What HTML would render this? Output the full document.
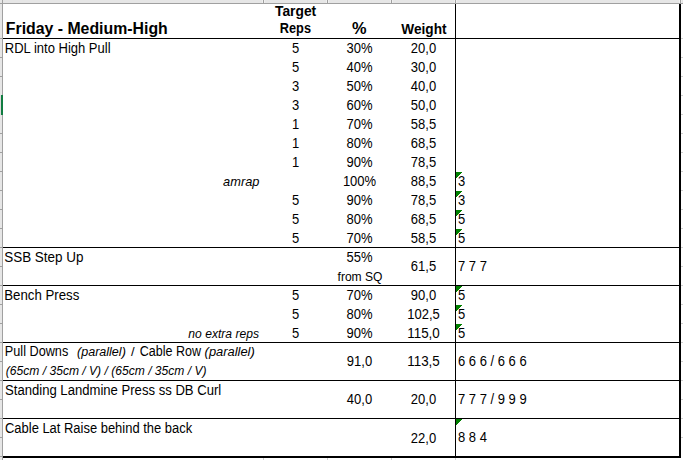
<!DOCTYPE html>
<html><head><meta charset="utf-8"><style>
html,body{margin:0;padding:0;background:#fff;}
body{width:683px;height:460px;overflow:hidden;font-family:"Liberation Sans",sans-serif;}
svg{display:block}
text{shape-rendering:auto}
</style></head><body>
<svg width="683" height="460" viewBox="0 0 683 460" font-family="Liberation Sans, sans-serif" fill="#000" shape-rendering="crispEdges">
<rect x="0" y="0" width="683" height="3" fill="#e6e6e6"/>
<rect x="0" y="3" width="683" height="1" fill="#a0a0a0"/>
<rect x="262" y="0" width="1" height="3" fill="#f0f0f0"/>
<rect x="264" y="0" width="1" height="3" fill="#f0f0f0"/>
<rect x="263" y="0" width="1" height="3" fill="#a0a0a0"/>
<rect x="326" y="0" width="1" height="3" fill="#f0f0f0"/>
<rect x="328" y="0" width="1" height="3" fill="#f0f0f0"/>
<rect x="327" y="0" width="1" height="3" fill="#a0a0a0"/>
<rect x="390" y="0" width="1" height="3" fill="#f0f0f0"/>
<rect x="392" y="0" width="1" height="3" fill="#f0f0f0"/>
<rect x="391" y="0" width="1" height="3" fill="#a0a0a0"/>
<rect x="454" y="0" width="1" height="3" fill="#f0f0f0"/>
<rect x="456" y="0" width="1" height="3" fill="#f0f0f0"/>
<rect x="455" y="0" width="1" height="3" fill="#a0a0a0"/>
<rect x="679" y="0" width="1" height="3" fill="#f0f0f0"/>
<rect x="681" y="0" width="1" height="3" fill="#f0f0f0"/>
<rect x="680" y="0" width="1" height="3" fill="#a0a0a0"/>
<rect x="0" y="4" width="2" height="456" fill="#e6e6e6"/>
<rect x="2" y="0" width="1" height="460" fill="#a0a0a0"/>
<rect x="0" y="38" width="2" height="1" fill="#a0a0a0"/>
<rect x="0" y="57" width="2" height="1" fill="#a0a0a0"/>
<rect x="0" y="76" width="2" height="1" fill="#a0a0a0"/>
<rect x="0" y="95" width="2" height="1" fill="#a0a0a0"/>
<rect x="0" y="114" width="2" height="1" fill="#a0a0a0"/>
<rect x="0" y="133" width="2" height="1" fill="#a0a0a0"/>
<rect x="0" y="152" width="2" height="1" fill="#a0a0a0"/>
<rect x="0" y="171" width="2" height="1" fill="#a0a0a0"/>
<rect x="0" y="190" width="2" height="1" fill="#a0a0a0"/>
<rect x="0" y="209" width="2" height="1" fill="#a0a0a0"/>
<rect x="0" y="228" width="2" height="1" fill="#a0a0a0"/>
<rect x="0" y="247" width="2" height="1" fill="#a0a0a0"/>
<rect x="0" y="266" width="2" height="1" fill="#a0a0a0"/>
<rect x="0" y="285" width="2" height="1" fill="#a0a0a0"/>
<rect x="0" y="304" width="2" height="1" fill="#a0a0a0"/>
<rect x="0" y="323" width="2" height="1" fill="#a0a0a0"/>
<rect x="0" y="342" width="2" height="1" fill="#a0a0a0"/>
<rect x="0" y="361" width="2" height="1" fill="#a0a0a0"/>
<rect x="0" y="380" width="2" height="1" fill="#a0a0a0"/>
<rect x="0" y="399" width="2" height="1" fill="#a0a0a0"/>
<rect x="0" y="418" width="2" height="1" fill="#a0a0a0"/>
<rect x="0" y="437" width="2" height="1" fill="#a0a0a0"/>
<rect x="0" y="456" width="2" height="1" fill="#a0a0a0"/>
<rect x="0" y="95" width="2" height="20" fill="#e0dadd"/>
<rect x="1" y="95" width="2" height="20" fill="#107c41"/>
<rect x="681" y="38" width="2" height="1" fill="#d0d0d0"/>
<rect x="681" y="57" width="2" height="1" fill="#d0d0d0"/>
<rect x="681" y="76" width="2" height="1" fill="#d0d0d0"/>
<rect x="681" y="95" width="2" height="1" fill="#d0d0d0"/>
<rect x="681" y="114" width="2" height="1" fill="#d0d0d0"/>
<rect x="681" y="133" width="2" height="1" fill="#d0d0d0"/>
<rect x="681" y="152" width="2" height="1" fill="#d0d0d0"/>
<rect x="681" y="171" width="2" height="1" fill="#d0d0d0"/>
<rect x="681" y="190" width="2" height="1" fill="#d0d0d0"/>
<rect x="681" y="209" width="2" height="1" fill="#d0d0d0"/>
<rect x="681" y="228" width="2" height="1" fill="#d0d0d0"/>
<rect x="681" y="247" width="2" height="1" fill="#d0d0d0"/>
<rect x="681" y="266" width="2" height="1" fill="#d0d0d0"/>
<rect x="681" y="285" width="2" height="1" fill="#d0d0d0"/>
<rect x="681" y="304" width="2" height="1" fill="#d0d0d0"/>
<rect x="681" y="323" width="2" height="1" fill="#d0d0d0"/>
<rect x="681" y="342" width="2" height="1" fill="#d0d0d0"/>
<rect x="681" y="361" width="2" height="1" fill="#d0d0d0"/>
<rect x="681" y="380" width="2" height="1" fill="#d0d0d0"/>
<rect x="681" y="399" width="2" height="1" fill="#d0d0d0"/>
<rect x="681" y="418" width="2" height="1" fill="#d0d0d0"/>
<rect x="681" y="437" width="2" height="1" fill="#d0d0d0"/>
<rect x="263" y="458" width="1" height="2" fill="#d0d0d0"/>
<rect x="327" y="458" width="1" height="2" fill="#d0d0d0"/>
<rect x="391" y="458" width="1" height="2" fill="#d0d0d0"/>
<rect x="455" y="458" width="1" height="2" fill="#d0d0d0"/>
<rect x="3" y="38" width="677" height="1" fill="#000"/>
<rect x="3" y="247" width="677" height="1" fill="#000"/>
<rect x="3" y="285" width="677" height="1" fill="#000"/>
<rect x="3" y="342" width="677" height="1" fill="#000"/>
<rect x="3" y="380" width="677" height="1" fill="#000"/>
<rect x="3" y="418" width="677" height="1" fill="#000"/>
<rect x="3" y="456" width="678" height="2" fill="#000"/>
<rect x="455" y="4" width="1" height="454" fill="#000"/>
<rect x="679" y="4" width="2" height="454" fill="#000"/>
<text x="5.80" y="34" font-size="16" font-weight="bold" textLength="161.96" lengthAdjust="spacingAndGlyphs">Friday - Medium-High</text>
<text x="295.60" y="16" font-size="14" font-weight="bold" text-anchor="middle" textLength="41.16" lengthAdjust="spacingAndGlyphs">Target</text>
<text x="295.40" y="33" font-size="14" font-weight="bold" text-anchor="middle" textLength="31.14" lengthAdjust="spacingAndGlyphs">Reps</text>
<text x="359.40" y="34" font-size="16" font-weight="bold" text-anchor="middle" textLength="14.52" lengthAdjust="spacingAndGlyphs">%</text>
<text x="423.90" y="34" font-size="14" font-weight="bold" text-anchor="middle" textLength="45.23" lengthAdjust="spacingAndGlyphs">Weight</text>
<text x="4.80" y="53" font-size="14" textLength="105.76" lengthAdjust="spacingAndGlyphs">RDL into High Pull</text>
<text x="4.20" y="262" font-size="14" textLength="79.25" lengthAdjust="spacingAndGlyphs">SSB Step Up</text>
<text x="4.20" y="300" font-size="14" textLength="75.11" lengthAdjust="spacingAndGlyphs">Bench Press</text>
<text x="5.00" y="395" font-size="14" textLength="216.24" lengthAdjust="spacingAndGlyphs">Standing Landmine Press ss DB Curl</text>
<text x="5.00" y="433" font-size="14" textLength="187.13" lengthAdjust="spacingAndGlyphs">Cable Lat Raise behind the back</text>
<text x="259.40" y="186" font-size="13" font-style="italic" text-anchor="end" textLength="36.28" lengthAdjust="spacingAndGlyphs">amrap</text>
<text x="259.00" y="338" font-size="12" font-style="italic" text-anchor="end" textLength="70.65" lengthAdjust="spacingAndGlyphs">no extra reps</text>
<text x="4.80" y="356" font-size="14" textLength="63.46" lengthAdjust="spacingAndGlyphs">Pull Downs</text>
<text x="77.00" y="356" font-size="12" font-style="italic" textLength="48.82" lengthAdjust="spacingAndGlyphs">(parallel)</text>
<text x="131.00" y="356" font-size="13">/</text>
<text x="139.80" y="356" font-size="14" textLength="61.24" lengthAdjust="spacingAndGlyphs">Cable Row</text>
<text x="204.60" y="356" font-size="12" font-style="italic" textLength="50.20" lengthAdjust="spacingAndGlyphs">(parallel)</text>
<text x="5.80" y="375" font-size="12" font-style="italic" textLength="200.79" lengthAdjust="spacingAndGlyphs">(65cm / 35cm / V) / (65cm / 35cm / V)</text>
<text x="360.00" y="281" font-size="12" text-anchor="middle" textLength="44.88" lengthAdjust="spacingAndGlyphs">from SQ</text>
<text x="295.50" y="53" font-size="14" text-anchor="middle" textLength="7.23" lengthAdjust="spacingAndGlyphs">5</text>
<text x="359.50" y="53" font-size="14" text-anchor="middle" textLength="26.01" lengthAdjust="spacingAndGlyphs">30%</text>
<text x="423.50" y="53" font-size="14" text-anchor="middle" textLength="25.30" lengthAdjust="spacingAndGlyphs">20,0</text>
<text x="295.50" y="72" font-size="14" text-anchor="middle" textLength="7.23" lengthAdjust="spacingAndGlyphs">5</text>
<text x="359.50" y="72" font-size="14" text-anchor="middle" textLength="26.01" lengthAdjust="spacingAndGlyphs">40%</text>
<text x="423.50" y="72" font-size="14" text-anchor="middle" textLength="25.30" lengthAdjust="spacingAndGlyphs">30,0</text>
<text x="295.50" y="91" font-size="14" text-anchor="middle" textLength="7.23" lengthAdjust="spacingAndGlyphs">3</text>
<text x="359.50" y="91" font-size="14" text-anchor="middle" textLength="26.01" lengthAdjust="spacingAndGlyphs">50%</text>
<text x="423.50" y="91" font-size="14" text-anchor="middle" textLength="25.30" lengthAdjust="spacingAndGlyphs">40,0</text>
<text x="295.50" y="110" font-size="14" text-anchor="middle" textLength="7.23" lengthAdjust="spacingAndGlyphs">3</text>
<text x="359.50" y="110" font-size="14" text-anchor="middle" textLength="26.01" lengthAdjust="spacingAndGlyphs">60%</text>
<text x="423.50" y="110" font-size="14" text-anchor="middle" textLength="25.30" lengthAdjust="spacingAndGlyphs">50,0</text>
<text x="295.50" y="129" font-size="14" text-anchor="middle" textLength="7.23" lengthAdjust="spacingAndGlyphs">1</text>
<text x="359.50" y="129" font-size="14" text-anchor="middle" textLength="26.01" lengthAdjust="spacingAndGlyphs">70%</text>
<text x="423.50" y="129" font-size="14" text-anchor="middle" textLength="25.30" lengthAdjust="spacingAndGlyphs">58,5</text>
<text x="295.50" y="148" font-size="14" text-anchor="middle" textLength="7.23" lengthAdjust="spacingAndGlyphs">1</text>
<text x="359.50" y="148" font-size="14" text-anchor="middle" textLength="26.01" lengthAdjust="spacingAndGlyphs">80%</text>
<text x="423.50" y="148" font-size="14" text-anchor="middle" textLength="25.30" lengthAdjust="spacingAndGlyphs">68,5</text>
<text x="295.50" y="167" font-size="14" text-anchor="middle" textLength="7.23" lengthAdjust="spacingAndGlyphs">1</text>
<text x="359.50" y="167" font-size="14" text-anchor="middle" textLength="26.01" lengthAdjust="spacingAndGlyphs">90%</text>
<text x="423.50" y="167" font-size="14" text-anchor="middle" textLength="25.30" lengthAdjust="spacingAndGlyphs">78,5</text>
<text x="359.50" y="186" font-size="14" text-anchor="middle" textLength="33.24" lengthAdjust="spacingAndGlyphs">100%</text>
<text x="423.50" y="186" font-size="14" text-anchor="middle" textLength="25.30" lengthAdjust="spacingAndGlyphs">88,5</text>
<text x="458.00" y="186" font-size="14" textLength="7.23" lengthAdjust="spacingAndGlyphs">3</text>
<path d="M456 172h6l-6 6z" fill="#008000"/>
<text x="295.50" y="205" font-size="14" text-anchor="middle" textLength="7.23" lengthAdjust="spacingAndGlyphs">5</text>
<text x="359.50" y="205" font-size="14" text-anchor="middle" textLength="26.01" lengthAdjust="spacingAndGlyphs">90%</text>
<text x="423.50" y="205" font-size="14" text-anchor="middle" textLength="25.30" lengthAdjust="spacingAndGlyphs">78,5</text>
<text x="458.00" y="205" font-size="14" textLength="7.23" lengthAdjust="spacingAndGlyphs">3</text>
<path d="M456 191h6l-6 6z" fill="#008000"/>
<text x="295.50" y="224" font-size="14" text-anchor="middle" textLength="7.23" lengthAdjust="spacingAndGlyphs">5</text>
<text x="359.50" y="224" font-size="14" text-anchor="middle" textLength="26.01" lengthAdjust="spacingAndGlyphs">80%</text>
<text x="423.50" y="224" font-size="14" text-anchor="middle" textLength="25.30" lengthAdjust="spacingAndGlyphs">68,5</text>
<text x="458.00" y="224" font-size="14" textLength="7.23" lengthAdjust="spacingAndGlyphs">5</text>
<path d="M456 210h6l-6 6z" fill="#008000"/>
<text x="295.50" y="243" font-size="14" text-anchor="middle" textLength="7.23" lengthAdjust="spacingAndGlyphs">5</text>
<text x="359.50" y="243" font-size="14" text-anchor="middle" textLength="26.01" lengthAdjust="spacingAndGlyphs">70%</text>
<text x="423.50" y="243" font-size="14" text-anchor="middle" textLength="25.30" lengthAdjust="spacingAndGlyphs">58,5</text>
<text x="458.00" y="243" font-size="14" textLength="7.23" lengthAdjust="spacingAndGlyphs">5</text>
<path d="M456 229h6l-6 6z" fill="#008000"/>
<text x="295.50" y="300" font-size="14" text-anchor="middle" textLength="7.23" lengthAdjust="spacingAndGlyphs">5</text>
<text x="359.50" y="300" font-size="14" text-anchor="middle" textLength="26.01" lengthAdjust="spacingAndGlyphs">70%</text>
<text x="423.50" y="300" font-size="14" text-anchor="middle" textLength="25.30" lengthAdjust="spacingAndGlyphs">90,0</text>
<text x="458.00" y="300" font-size="14" textLength="7.23" lengthAdjust="spacingAndGlyphs">5</text>
<path d="M456 286h6l-6 6z" fill="#008000"/>
<text x="295.50" y="319" font-size="14" text-anchor="middle" textLength="7.23" lengthAdjust="spacingAndGlyphs">5</text>
<text x="359.50" y="319" font-size="14" text-anchor="middle" textLength="26.01" lengthAdjust="spacingAndGlyphs">80%</text>
<text x="423.50" y="319" font-size="14" text-anchor="middle" textLength="32.53" lengthAdjust="spacingAndGlyphs">102,5</text>
<text x="458.00" y="319" font-size="14" textLength="7.23" lengthAdjust="spacingAndGlyphs">5</text>
<path d="M456 305h6l-6 6z" fill="#008000"/>
<text x="295.50" y="338" font-size="14" text-anchor="middle" textLength="7.23" lengthAdjust="spacingAndGlyphs">5</text>
<text x="359.50" y="338" font-size="14" text-anchor="middle" textLength="26.01" lengthAdjust="spacingAndGlyphs">90%</text>
<text x="423.50" y="338" font-size="14" text-anchor="middle" textLength="32.53" lengthAdjust="spacingAndGlyphs">115,0</text>
<text x="458.00" y="338" font-size="14" textLength="7.23" lengthAdjust="spacingAndGlyphs">5</text>
<path d="M456 324h6l-6 6z" fill="#008000"/>
<text x="359.50" y="262" font-size="14" text-anchor="middle" textLength="26.01" lengthAdjust="spacingAndGlyphs">55%</text>
<text x="423.50" y="271" font-size="14" text-anchor="middle" textLength="25.30" lengthAdjust="spacingAndGlyphs">61,5</text>
<text x="458.00" y="271" font-size="14" textLength="28.91" lengthAdjust="spacingAndGlyphs">7 7 7</text>
<text x="359.50" y="366" font-size="14" text-anchor="middle" textLength="25.30" lengthAdjust="spacingAndGlyphs">91,0</text>
<text x="423.50" y="366" font-size="14" text-anchor="middle" textLength="32.53" lengthAdjust="spacingAndGlyphs">113,5</text>
<text x="458.00" y="366" font-size="14" textLength="68.67" lengthAdjust="spacingAndGlyphs">6 6 6 / 6 6 6</text>
<text x="359.50" y="404" font-size="14" text-anchor="middle" textLength="25.30" lengthAdjust="spacingAndGlyphs">40,0</text>
<text x="423.50" y="404" font-size="14" text-anchor="middle" textLength="25.30" lengthAdjust="spacingAndGlyphs">20,0</text>
<text x="458.00" y="404" font-size="14" textLength="68.67" lengthAdjust="spacingAndGlyphs">7 7 7 / 9 9 9</text>
<text x="423.50" y="443" font-size="14" text-anchor="middle" textLength="25.30" lengthAdjust="spacingAndGlyphs">22,0</text>
<text x="458.00" y="442" font-size="14" textLength="28.91" lengthAdjust="spacingAndGlyphs">8 8 4</text>
<path d="M456 419h6l-6 6z" fill="#008000"/>
</svg>
</body></html>
